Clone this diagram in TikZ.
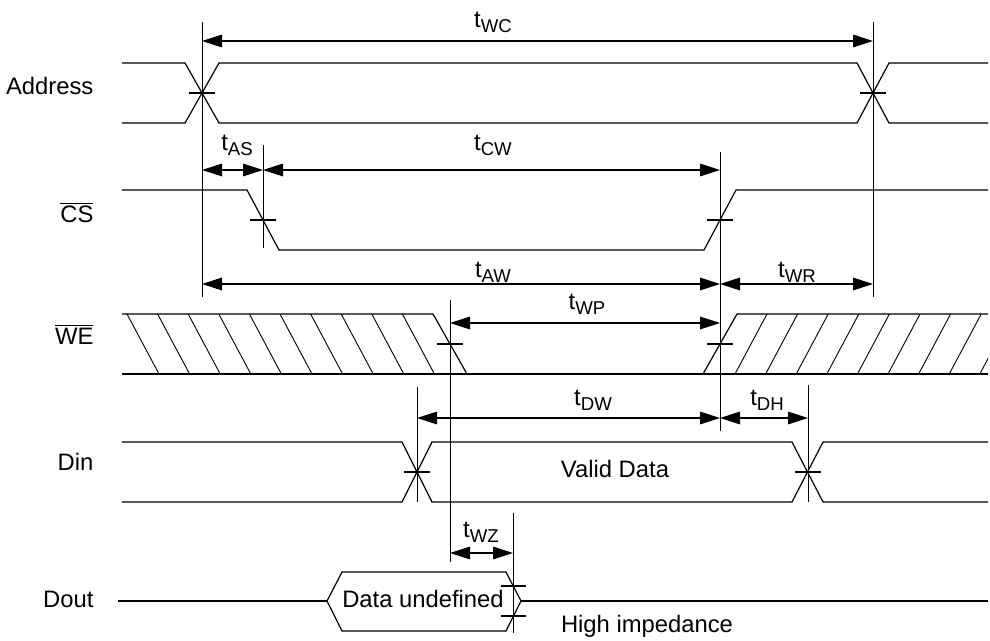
\documentclass[tikz,border=0pt]{standalone}
\usepackage{fontspec}
\setmainfont{Liberation Sans}
\usetikzlibrary{arrows.meta}
\newcommand{\tsub}[1]{t\raisebox{-2.5pt}{\fontsize{9.3}{10}\selectfont #1}}

\begin{document}
\begin{tikzpicture}[x=0.5pt,y=-0.5pt,line width=0.6pt,
    >={Triangle[length=10pt,width=6.3pt]},
    lbl/.style={inner sep=0pt,font=\fontsize{11.9}{14}\selectfont},
    hatch/.style={line width=0.45pt},
    vline/.style={line width=0.5pt}]
      \useasboundingbox (0,0) rectangle (990,641);

      % signal names
      \node[lbl,anchor=base east] (adr) at (94,95){Address};
      \node[lbl,anchor=base east] (cs) at (94,223){$\overline{\mbox{CS}}$};
      \node[lbl,anchor=base east] (we) at (94,345){$\overline{\mbox{WE}}$};
      \node[lbl,anchor=base east] (din) at (94,470){Din};
      \node[lbl,anchor=base east] (dout) at (94,607){Dout};

      % Address
      \draw (122,63) -- (185,63) -- (219,123) -- (857,123) -- (889,63) -- (988,63);
      \draw (122,123) -- (185,123) -- (219,63) -- (857,63) -- (889,123) -- (988,123);
      \draw (189,93) -- (215,93);
      \draw (860,93) -- (886,93);

      % CS
      \draw (122,190) -- (247,190) -- (279,250) -- (704,250) -- (736,190) -- (988,190);
      \draw (250,220) -- (276,220);
      \draw (707,220) -- (733,220);

      % WE
      \draw (122,314) -- (433,314) -- (467,374);
      \draw (122,374) -- (988,374);
      \draw (703,374) -- (737,314) -- (988,314);
      \foreach \i in {0,...,9}
        \draw[hatch] ({127+30.6*\i},314) -- ({159+30.6*\i},374);
      \begin{scope}
        \clip (700,300) rectangle (988,380);
        \foreach \i in {0,...,8}
          \draw[hatch] ({735+30.6*\i},374) -- ({767+30.6*\i},314);
      \end{scope}
      \draw (437,344) -- (463,344);
      \draw (707,344) -- (733,344);

      % Din
      \draw (122,442) -- (402,442) -- (432,502) -- (792,502) -- (823,442) -- (988,442);
      \draw (122,502) -- (402,502) -- (432,442) -- (792,442) -- (823,502) -- (988,502);
      \draw (404,472) -- (430,472);
      \draw (795,472) -- (821,472);
      \node[lbl,anchor=base] (vd) at (615,477){Valid Data};

      % Dout
      \draw (118,601) -- (327,601);
      \draw (327,601) -- (342,572) -- (506,572) -- (521,601) -- (506,631) -- (342,631) -- cycle;
      \draw (521,601) -- (988,601);
      \draw (501,586) -- (526,586);
      \draw (501,616) -- (526,616);
      \node[lbl,anchor=base] (du) at (423,607){Data undefined};
      \node[lbl,anchor=base] (hi) at (647,632){High impedance};

      % reference lines
      \draw[vline] (202,22) -- (202,297);
      \draw[vline] (873,22) -- (873,297);
      \draw[vline] (263,145) -- (263,248);
      \draw[vline] (720,152) -- (720,431);
      \draw[vline] (450,300) -- (450,562);
      \draw[vline] (417,387) -- (417,502);
      \draw[vline] (808,385) -- (808,502);
      \draw[vline] (513,513) -- (513,633);

      \coordinate (a1) at (202,41);
      \coordinate (a2) at (873,41);
      \coordinate (b1) at (202,170);
      \coordinate (b2) at (263,170);
      \coordinate (b3) at (720,170);
      \coordinate (c1) at (202,284);
      \coordinate (c2) at (720,284);
      \coordinate (c3) at (873,284);
      \coordinate (d1) at (450,323);
      \coordinate (d2) at (720,323);
      \coordinate (e1) at (417,418);
      \coordinate (e2) at (720,418);
      \coordinate (e3) at (808,418);
      \coordinate (f1) at (450,553);
      \coordinate (f2) at (513,553);

      \node[lbl] (twc) at (493,22){\tsub{WC}};
      \node[lbl] (tas) at (237,145){\tsub{AS}};
      \node[lbl] (tcw) at (493,145){\tsub{CW}};
      \node[lbl] (taw) at (493,272){\tsub{AW}};
      \node[lbl] (twr) at (797,272){\tsub{WR}};
      \node[lbl] (twp) at (587,304){\tsub{WP}};
      \node[lbl] (tdw) at (593,400){\tsub{DW}};
      \node[lbl] (tdh) at (767,400){\tsub{DH}};
      \node[lbl] (twz) at (481,532){\tsub{WZ}};

      \draw[<->] (a1) -- (a2);
      \draw[<->] (b1) -- (b2);
      \draw[<->] (b2) -- (b3);
      \draw[<->] (c1) -- (c2);
      \draw[<->] (c2) -- (c3);
      \draw[<->] (d1) -- (d2);
      \draw[<->] (e1) -- (e2);
      \draw[<->] (e2) -- (e3);
      \draw[<->] (f1) -- (f2);
    \end{tikzpicture}
\end{document}
